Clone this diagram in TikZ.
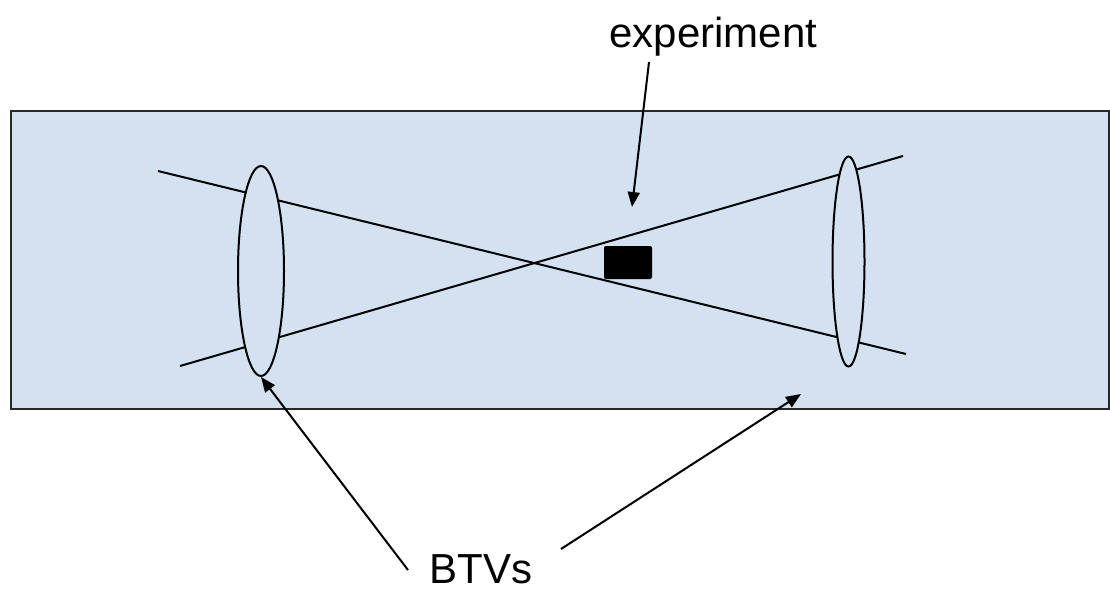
\documentclass[tikz,border=0pt]{standalone}
\usepackage{fontspec}
\setmainfont{Liberation Sans}
\usetikzlibrary{shapes.geometric,arrows.meta}
\definecolor{panel}{RGB}{212,225,241}
\definecolor{edge}{RGB}{40,40,40}
\tikzset{
  beam/.style={line width=2pt, black},
  lens/.style={ellipse, draw=black, line width=2pt, fill=panel, inner sep=0pt},
  pointer/.style={line width=2pt, black, -{Triangle[length=15pt,width=12pt]}},
  label/.style={font=\fontsize{42}{48}\selectfont, anchor=base, inner sep=0pt}
}
\begin{document}
\begin{tikzpicture}[x=1pt,y=-1pt]
\useasboundingbox (0,0) rectangle (1110,590);
% panel
\node[draw=edge, line width=2pt, fill=panel, minimum width=1098pt, minimum height=298pt, inner sep=0pt] (panel) at (559.5,259.5) {};
% beams
\coordinate (b1s) at (158,171);
\coordinate (b1e) at (906,354);
\coordinate (b2s) at (180,366);
\coordinate (b2e) at (903,156);
\draw[beam] (b1s) -- (b1e);
\draw[beam] (b2s) -- (b2e);
% lenses
\node[lens, minimum width=46pt, minimum height=210pt] (lensL) at (261,271) {};
\node[lens, minimum width=32pt, minimum height=210pt] (lensR) at (848.5,261.5) {};
% experiment block
\node[fill=black, rounded corners=2pt, minimum width=48pt, minimum height=33pt, inner sep=0pt] (block) at (628,262.5) {};
% labels
\node[label] (exp) at (713.5,47) {experiment};
\node[label] (btv) at (481,583) {BTVs};
% arrows
\coordinate (expT) at (649,62);
\coordinate (expH) at (632,207);
\draw[pointer] (expT) -- (expH);
\coordinate (btvL) at (408,570);
\coordinate (btvR) at (561,549);
\coordinate (btvRH) at (801,394);
\draw[pointer] (btvL) -- (lensL.south);
\draw[pointer] (btvR) -- (btvRH);
\end{tikzpicture}
\end{document}
